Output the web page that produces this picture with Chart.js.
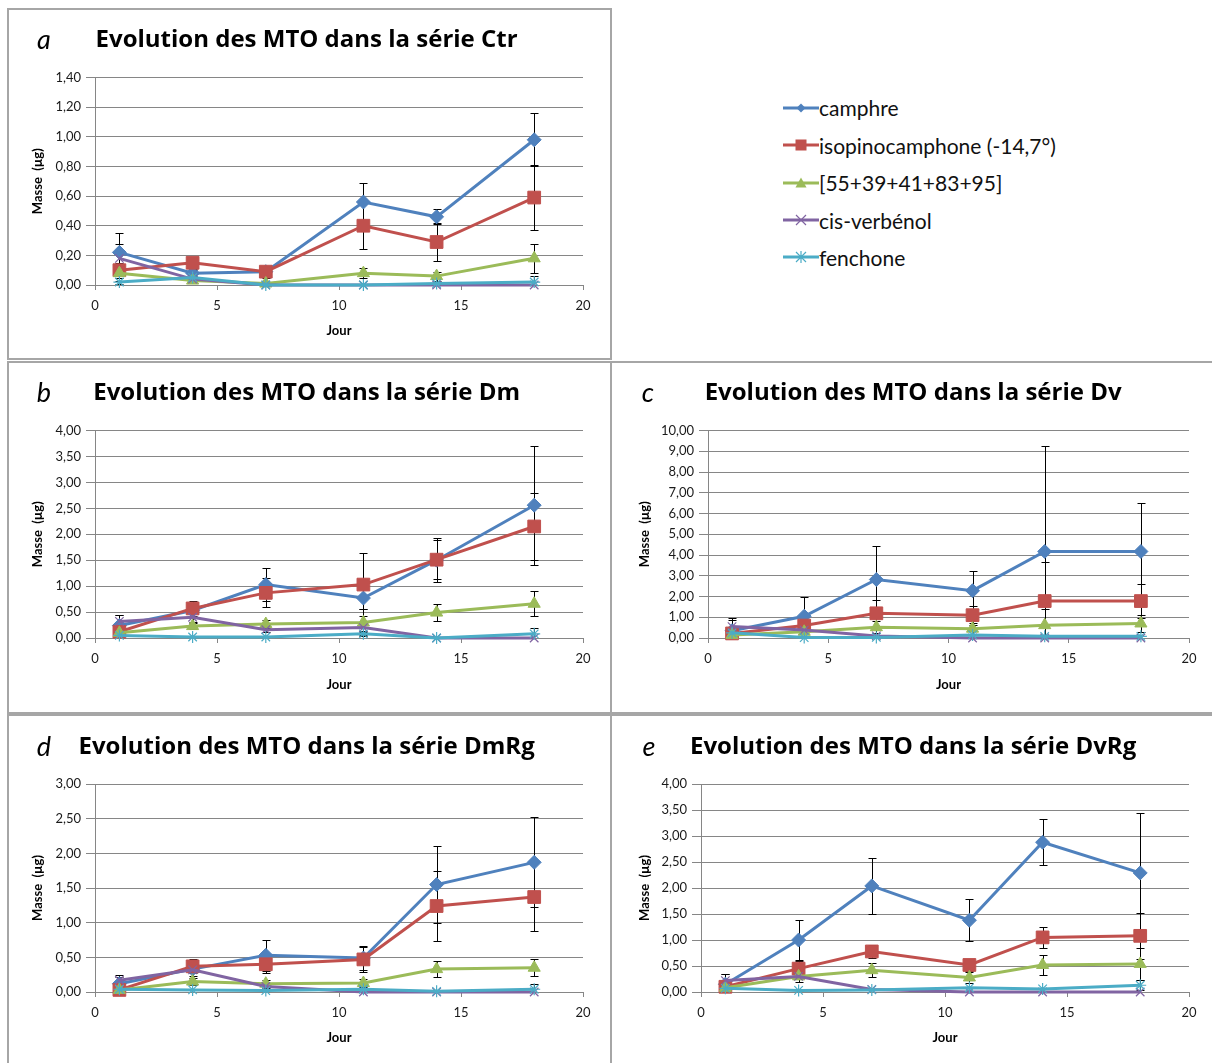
<!DOCTYPE html>
<html>
<head>
<meta charset="utf-8">
<script src="https://cdn.jsdelivr.net/npm/chart.js@4.4.0/dist/chart.umd.min.js"></script>
<style>
    body { margin: 0; background: #fff; width: 1212px; height: 1063px; position: relative; overflow: hidden; font-family: Lato, sans-serif; }
    .box { position: absolute; border: 2px solid #a6a6a6; box-sizing: border-box; }
    canvas { position: absolute; }
    .letter { position: absolute; font: italic 27px Lato, sans-serif; color: #000; transform: translate(-50%, -55%); }
    .item { position: absolute; left: 783px; display: flex; align-items: center; height: 26px; white-space: nowrap; font-size: 21px; color: #111; }
</style>
</head>
<body>
<script>
// Days of sampling (x axis)
const jours = [1, 4, 7, 11, 14, 18];

const seriesNames = ["camphre", "isopinocamphone (-14,7°)", "[55+39+41+83+95]", "cis-verbénol", "fenchone"];
const panelLetters = ["a", "b", "c", "d", "e"];
const panelTitles = [
    "Evolution des MTO dans la série Ctr",
    "Evolution des MTO dans la série Dm",
    "Evolution des MTO dans la série Dv",
    "Evolution des MTO dans la série DmRg",
    "Evolution des MTO dans la série DvRg"
];
const xTicks = [0, 5, 10, 15, 20];
const yMax = [1.4, 4, 10, 3, 4];
const yStep = [0.2, 0.5, 1, 0.5, 0.5];

// Series Ctr : camphre, isopinocamphone, [55+...], cis-verbénol, fenchone
const ctrValues = [
    [0.22, 0.08, 0.09, 0.56, 0.46, 0.98],
    [0.10, 0.15, 0.09, 0.40, 0.29, 0.59],
    [0.08, 0.03, 0.01, 0.08, 0.06, 0.18],
    [0.18, 0.04, 0.00, 0.00, 0.00, 0.00],
    [0.02, 0.05, 0.00, 0.00, 0.01, 0.02]
];
const ctrErrors = [
    [0.13, 0.02, 0.03, 0.13, 0.05, 0.18],
    [0.05, 0.04, 0.04, 0.16, 0.13, 0.22],
    [0.03, 0.01, 0.01, 0.035, 0.03, 0.10],
    [0.10, 0, 0, 0, 0, 0],
    [0.01, 0, 0, 0, 0.01, 0.04]
];

// Series Dm
const dmValues = [
    [0.24, 0.53, 1.03, 0.77, 1.50, 2.56],
    [0.12, 0.57, 0.87, 1.03, 1.51, 2.15],
    [0.10, 0.23, 0.27, 0.30, 0.49, 0.66],
    [0.32, 0.40, 0.16, 0.20, 0.00, 0.00],
    [0.05, 0.02, 0.02, 0.08, 0.00, 0.08]
];
const dmErrors = [
    [0.20, 0.15, 0.31, 0.22, 0.42, 1.15],
    [0.10, 0.15, 0.28, 0.60, 0.38, 0.64],
    [0.05, 0.05, 0.08, 0.25, 0.17, 0.24],
    [0.13, 0.10, 0.05, 0.08, 0, 0],
    [0.02, 0, 0, 0.05, 0, 0.12]
];

// Series Dv
const dvValues = [
    [0.35, 1.05, 2.82, 2.28, 4.17, 4.17],
    [0.22, 0.60, 1.19, 1.10, 1.78, 1.78],
    [0.15, 0.30, 0.52, 0.45, 0.62, 0.70],
    [0.55, 0.38, 0.10, 0.00, 0.00, 0.00],
    [0.25, 0.02, 0.03, 0.15, 0.08, 0.08]
];
const dvErrors = [
    [0.60, 0.95, 1.60, 0.96, 5.10, 2.35],
    [0.10, 0.10, 0.65, 0.45, 1.86, 0.82],
    [0.05, 0.05, 0.30, 0.25, 0.80, 0.40],
    [0.30, 0, 0, 0, 0, 0],
    [0, 0, 0, 0, 0, 0]
];

// Series DmRg
const dmRgValues = [
    [0.12, 0.33, 0.53, 0.49, 1.55, 1.87],
    [0.03, 0.37, 0.40, 0.47, 1.24, 1.37],
    [0.03, 0.15, 0.12, 0.13, 0.33, 0.35],
    [0.17, 0.32, 0.08, 0.00, 0.00, 0.00],
    [0.04, 0.03, 0.02, 0.04, 0.01, 0.04]
];
const dmRgErrors = [
    [0.10, 0.10, 0.22, 0.17, 0.55, 0.65],
    [0.05, 0.10, 0.12, 0.18, 0.50, 0.49],
    [0.02, 0.05, 0.06, 0.06, 0.12, 0.12],
    [0.07, 0, 0, 0, 0, 0],
    [0, 0, 0, 0, 0, 0.08]
];

// Series DvRg
const dvRgValues = [
    [0.15, 1.00, 2.04, 1.38, 2.88, 2.29],
    [0.10, 0.45, 0.78, 0.52, 1.05, 1.08],
    [0.08, 0.30, 0.42, 0.28, 0.52, 0.54],
    [0.22, 0.30, 0.05, 0.00, 0.00, 0.00],
    [0.07, 0.03, 0.04, 0.08, 0.06, 0.13]
];
const dvRgErrors = [
    [0.20, 0.38, 0.54, 0.40, 0.44, 1.16],
    [0.05, 0.15, 0.13, 0.12, 0.20, 0.44],
    [0.03, 0.10, 0.13, 0.10, 0.20, 0.30],
    [0.13, 0, 0, 0, 0, 0],
    [0, 0, 0, 0, 0, 0.10]
];

const panelValues = [ctrValues, dmValues, dvValues, dmRgValues, dvRgValues];
const panelErrors = [ctrErrors, dmErrors, dvErrors, dmRgErrors, dvRgErrors];

// Styles (Excel 2007 palette)
const colors = ["#4F81BD", "#C0504D", "#9BBB59", "#8064A2", "#4BACC6"];
const markers = ["rectRot", "rect", "triangle", "crossRot", "star"];
const markerSizes = [7, 9, 7, 6, 6];

// Panel boxes and plot areas, in page pixels
const panelLayout = [
    { box: [7, 8, 605, 352], plot: [95, 77.5, 583, 285], titleY: 40, letterX: 44, yTitleX: 38, xTitleY: 331 },
    { box: [7, 361, 605, 353], plot: [95, 430.5, 583, 638], titleY: 393, letterX: 44, yTitleX: 38, xTitleY: 685 },
    { box: [610, 361, 605, 353], plot: [708, 430.5, 1189, 638], titleY: 393, letterX: 648, yTitleX: 645, xTitleY: 685 },
    { box: [7, 714, 605, 352], plot: [95, 784, 583, 992], titleY: 747, letterX: 44, yTitleX: 38, xTitleY: 1038 },
    { box: [610, 714, 605, 352], plot: [701, 784, 1189, 992], titleY: 747, letterX: 649, yTitleX: 645, xTitleY: 1038 }
];

// Error bars, drawn under the lines
const errorBars = {
    id: "errorBars",
    beforeDatasetsDraw(chart) {
        const { ctx, chartArea, scales: { x, y } } = chart;
        ctx.save();
        ctx.beginPath();
        ctx.rect(chartArea.left - 10, chartArea.top - 2, chartArea.width + 20, chartArea.height + 2);
        ctx.clip();
        ctx.strokeStyle = "#000";
        ctx.lineWidth = 1;
        chart.data.datasets.forEach(ds => {
            ds.err.forEach((e, i) => {
                if (!e) return;
                const p = ds.data[i];
                const px = Math.round(x.getPixelForValue(p.x)) + 0.5;
                const top = Math.round(y.getPixelForValue(p.y + e)) + 0.5;
                const bot = Math.round(y.getPixelForValue(p.y - e)) + 0.5;
                ctx.beginPath();
                ctx.moveTo(px, top); ctx.lineTo(px, bot);
                ctx.moveTo(px - 4, top); ctx.lineTo(px + 4, top);
                ctx.moveTo(px - 4, bot); ctx.lineTo(px + 4, bot);
                ctx.stroke();
            });
        });
        ctx.restore();
    }
};

const fmt = v => v.toFixed(2).replace(".", ",");

function createPanel(k) {
    const L = panelLayout[k];
    const [bx, by, bw, bh] = L.box;
    const [pl, pt, pr, pb] = L.plot;

    const box = document.createElement("div");
    box.className = "box";
    Object.assign(box.style, { left: bx + "px", top: by + "px", width: bw + "px", height: bh + "px" });
    document.body.appendChild(box);

    const canvas = document.createElement("canvas");
    canvas.width = bw; canvas.height = bh;
    Object.assign(canvas.style, { left: bx + "px", top: by + "px", width: bw + "px", height: bh + "px" });
    document.body.appendChild(canvas);

    const letter = document.createElement("div");
    letter.className = "letter";
    letter.textContent = panelLetters[k];
    Object.assign(letter.style, { left: L.letterX + "px", top: L.titleY + "px" });
    document.body.appendChild(letter);

    // layout maths (relative to canvas)
    const titleLH = 24 * 1.2;
    const titlePadTop = (L.titleY - by) - titleLH / 2;
    const titlePadBottom = (pt - by) - titlePadTop - titleLH;
    const padLeft = (L.yTitleX - bx) - 13 * 1.2 / 2;
    const xAxisBottom = (L.xTitleY - by) + 13 * 1.2 / 2;
    const padRight = bw - (pr - bx);
    const padBottom = bh - xAxisBottom;
    const yWidth = (pl - bx) - padLeft;
    const xHeight = xAxisBottom - (pb - by);

    const datasets = seriesNames.map((name, s) => ({
        label: name,
        data: jours.map((j, i) => ({ x: j, y: panelValues[k][s][i] })),
        err: panelErrors[k][s],
        borderColor: colors[s],
        backgroundColor: colors[s],
        borderWidth: 3,
        pointStyle: markers[s],
        pointRadius: markerSizes[s],
        pointBorderWidth: s >= 3 ? 1.2 : 1,
        pointBorderColor: colors[s],
        pointBackgroundColor: colors[s],
        tension: 0,
        clip: false,
        order: 4 - s
    }));

    new Chart(canvas.getContext("2d"), {
        type: "line",
        data: { datasets },
        plugins: [errorBars],
        options: {
            responsive: false,
            animation: false,
            devicePixelRatio: 1,
            layout: { padding: { left: padLeft, right: padRight, top: 0, bottom: padBottom } },
            plugins: {
                legend: { display: false },
                tooltip: { enabled: false },
                title: {
                    display: true,
                    text: panelTitles[k],
                    color: "#000",
                    font: { family: "'Open Sans'", size: 24, weight: "bold", lineHeight: 1.2 },
                    padding: { top: titlePadTop, bottom: titlePadBottom }
                }
            },
            scales: {
                x: {
                    type: "linear",
                    min: 0,
                    max: 20,
                    afterBuildTicks: s => { s.ticks = xTicks.map(v => ({ value: v })); },
                    afterFit: s => { s.height = xHeight; },
                    ticks: { color: "#1a1a1a", font: { family: "Lato", size: 13 }, padding: 8, maxRotation: 0 },
                    grid: { drawOnChartArea: false, drawTicks: true, tickLength: 5, color: "#868686" },
                    border: { color: "#868686", width: 1 },
                    title: { display: true, text: "Jour", color: "#000", font: { family: "Lato", size: 13, weight: "bold", lineHeight: 1.2 }, padding: 0 }
                },
                y: {
                    min: 0,
                    max: yMax[k],
                    afterFit: s => { s.width = yWidth; },
                    ticks: { stepSize: yStep[k], callback: v => fmt(v), color: "#1a1a1a", font: { family: "Lato", size: 13 }, padding: 5 },
                    grid: { color: "#868686", tickLength: 9 },
                    border: { color: "#868686", width: 1 },
                    title: { display: true, text: "Masse  (µg)", color: "#000", font: { family: "Lato", size: 13, weight: "bold", lineHeight: 1.2 }, padding: 0 }
                }
            }
        }
    });
}

for (let k = 0; k < panelLayout.length; k++) createPanel(k);

// Legend in the upper right corner
function markerSvg(s) {
    const c = colors[s];
    let m = "";
    if (s === 0) m = `<polygon points="18,3.5 22.5,8 18,12.5 13.5,8" fill="${c}"/>`;
    if (s === 1) m = `<rect x="12.5" y="2.5" width="11" height="11" fill="${c}"/>`;
    if (s === 2) m = `<polygon points="18,2.5 23.5,12.5 12.5,12.5" fill="${c}"/>`;
    if (s === 3) m = `<path d="M13,3 L23,13 M13,13 L23,3" stroke="${c}" stroke-width="1.2"/>`;
    if (s === 4) m = `<path d="M13,3 L23,13 M13,13 L23,3 M18,2 L18,14" stroke="${c}" stroke-width="1.2"/>`;
    return `<svg width="36" height="16"><line x1="0" y1="8" x2="36" y2="8" stroke="${c}" stroke-width="3"/>${m}</svg>`;
}
const legendY = [107.5, 145, 182.5, 220, 257];
seriesNames.forEach((name, s) => {
    const item = document.createElement("div");
    item.className = "item";
    item.style.top = (legendY[s] - 13) + "px";
    item.innerHTML = markerSvg(s) + "<span>" + name + "</span>";
    document.body.appendChild(item);
});
</script>
</body>
</html>
